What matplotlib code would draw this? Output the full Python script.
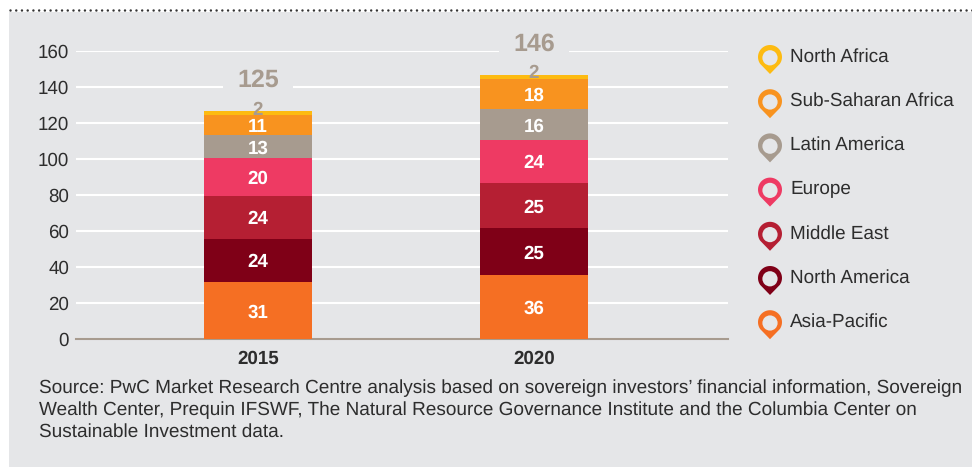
#!/usr/bin/env python3
"""Stacked bars of sovereign investor assets by region, 2015 and 2020"""

import matplotlib
matplotlib.use('Agg')
import matplotlib.pyplot as plt
import numpy as np
from matplotlib.path import Path
from matplotlib.patches import PathPatch, Circle, Rectangle

plt.rcParams['font.family'] = ['Liberation Sans', 'DejaVu Sans']
plt.rcParams['text.hinting'] = 'no_hinting'

# Data: bar heights as drawn, printed labels are rounded differently in the source
years = ['2015', '2020']
regions = ['Asia-Pacific', 'North America', 'Middle East', 'Europe',
           'Latin America', 'Sub-Saharan Africa', 'North Africa']
asia_pacific = [31.4, 35.8]
north_america = [24.4, 25.6]
middle_east = [23.9, 25.0]
europe = [20.6, 24.4]
latin_america = [12.8, 16.7]
sub_saharan = [11.1, 17.2]
north_africa = [2.2, 2.2]
asia_pacific_labels = [31, 36]
north_america_labels = [24, 25]
middle_east_labels = [24, 25]
europe_labels = [20, 24]
latin_america_labels = [13, 16]
sub_saharan_labels = [11, 18]
north_africa_labels = [2, 2]
totals = [125, 146]
y_ticks = [0, 20, 40, 60, 80, 100, 120, 140, 160]

series = [asia_pacific, north_america, middle_east, europe,
          latin_america, sub_saharan, north_africa]
series_labels = [asia_pacific_labels, north_america_labels, middle_east_labels, europe_labels,
                 latin_america_labels, sub_saharan_labels, north_africa_labels]
colors = ['#F56F23', '#7F0017', '#B51F33', '#EE3A63',
          '#A79B8F', '#F8931F', '#FDBB11']

BG = '#E5E6E8'
TEXT = '#2D2D2D'
W, H = 972, 467

source = ("Source: PwC Market Research Centre analysis based on sovereign investors\u2019 financial information, Sovereign\n"
          "Wealth Center, Prequin IFSWF, The Natural Resource Governance Institute and the Columbia Center on\n"
          "Sustainable Investment data.")


def pin_path(cx, cy, r=12, tip=17):
    """Map-pin outline in pixel coords, y pointing down"""
    ang = np.radians(np.linspace(-35, 215, 40))
    xs = cx + r * np.cos(ang)
    ys = cy - r * np.sin(ang)
    verts = list(zip(xs, ys)) + [(cx, cy + tip), (xs[0], ys[0])]
    codes = [Path.MOVETO] + [Path.LINETO] * (len(verts) - 2) + [Path.CLOSEPOLY]
    return Path(verts, codes)


fig = plt.figure(figsize=(W / 100, H / 100), dpi=100, facecolor='white')

# Backdrop in pixel coords
bg = fig.add_axes([0, 0, 1, 1])
bg.set_xlim(0, W)
bg.set_ylim(H, 0)
bg.axis('off')
bg.add_patch(Rectangle((9, 12), W - 9, H - 12, color=BG, lw=0))
bg.plot([10, W], [9.5, 9.5], color='#333333', lw=1.8, ls=(0, (0.01, 2.28)), dash_capstyle='round')

# Chart
ax = fig.add_axes([76 / W, (H - 339) / H, 652 / W, 288 / H], zorder=2)
ax.patch.set_alpha(0)
x = np.arange(len(years))
bottom = np.zeros(len(years))
for vals, labs, col in zip(series, series_labels, colors):
    ax.bar(x, vals, width=0.391, bottom=bottom, color=col, zorder=3)
    for xi, b, v, lab in zip(x, bottom, vals, labs):
        if lab > 2:
            ax.text(xi, b + v / 2, str(lab), ha='center', va='center_baseline',
                    color='white', fontsize=13.5, fontweight='bold', zorder=4)
        else:
            ax.text(xi, b + v + 2, str(lab), ha='center', va='center_baseline',
                    color='#A79B8F', fontsize=13.5, fontweight='bold', zorder=4)
    bottom += np.array(vals)

# Totals sit under the bars so their gridline gap never covers the stack
for xi, b, t in zip(x, bottom, totals):
    ax.text(xi, b + 18.5, str(t), ha='center', va='center_baseline', color='#A79B8F',
            fontsize=18, fontweight='bold', zorder=2.5, clip_on=False,
            bbox=dict(facecolor=BG, edgecolor='none', boxstyle='square,pad=0.56'))

ax.set_xlim(-0.659, 1.703)
ax.set_ylim(0, 160)
ax.set_yticks(y_ticks)
ax.set_xticks(x, years)
ax.grid(axis='y', color='white', lw=1.5, zorder=1)
ax.set_axisbelow(True)
ax.tick_params(length=0)
ax.tick_params(axis='y', labelsize=13.5, labelcolor=TEXT, pad=5)
ax.tick_params(axis='x', pad=8)
for lab in ax.get_xticklabels():
    lab.set_fontsize(13.5)
    lab.set_fontweight('bold')
    lab.set_color(TEXT)
for side in ['top', 'right', 'left']:
    ax.spines[side].set_visible(False)
ax.spines['bottom'].set_color('#A79B8F')
ax.spines['bottom'].set_linewidth(1.5)

# Legend drawn as map pins, top row is the top of the stack
for i, (name, col) in enumerate(zip(regions[::-1], colors[::-1])):
    cy = 57 + i * 44.2
    bg.add_patch(PathPatch(pin_path(770, cy), facecolor=col, edgecolor='none'))
    bg.add_patch(Circle((770, cy + 0.8), 7.6, facecolor=BG, edgecolor='none'))
    bg.text(790, cy - 2, name, ha='left', va='center_baseline', fontsize=13.6, color=TEXT)

# Source note
bg.text(39, 410, source, ha='left', va='center', fontsize=13.7, color=TEXT, linespacing=1.29)

fig.savefig('out.png', dpi=100, facecolor='white')
plt.close()
